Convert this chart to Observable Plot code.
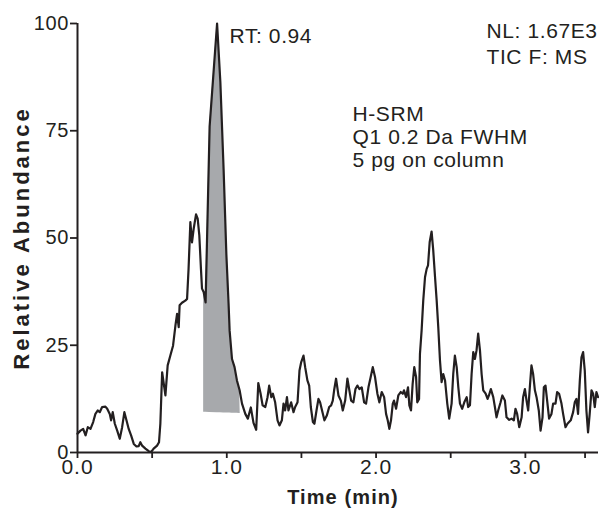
<!DOCTYPE html>
<html><head><meta charset="utf-8">
<script src="https://cdn.jsdelivr.net/npm/d3@7"></script>
<script src="https://cdn.jsdelivr.net/npm/@observablehq/plot@0.6"></script>
<style>
body{margin:0;background:#fff;}
#chart svg{display:block;}
</style></head><body><div id="chart"></div>
<script>
// Time (min) of each sampled point of the trace
const times = [0.000,0.020,0.038,0.054,0.069,0.087,0.105,0.120,0.136,0.149,0.165,0.187,0.199,0.216,0.225,0.236,0.250,0.266,0.283,0.299,0.314,0.328,0.343,0.359,0.377,0.395,0.410,0.421,0.433,0.455,0.477,0.493,0.510,0.533,0.546,0.555,0.567,0.589,0.604,0.622,0.640,0.656,0.667,0.678,0.684,0.700,0.722,0.734,0.744,0.756,0.767,0.778,0.794,0.805,0.816,0.827,0.834,0.845,0.858,0.885,0.935,0.957,0.979,0.997,1.012,1.019,1.035,1.052,1.068,1.086,1.102,1.124,1.141,1.161,1.179,1.197,1.211,1.226,1.240,1.258,1.273,1.284,1.298,1.309,1.324,1.340,1.353,1.369,1.380,1.391,1.403,1.413,1.431,1.447,1.458,1.474,1.487,1.498,1.514,1.525,1.540,1.552,1.563,1.577,1.587,1.601,1.614,1.625,1.641,1.654,1.670,1.686,1.699,1.710,1.719,1.732,1.748,1.764,1.777,1.793,1.808,1.821,1.833,1.848,1.862,1.875,1.888,1.904,1.920,1.933,1.949,1.964,1.978,1.993,2.009,2.022,2.038,2.054,2.067,2.078,2.089,2.100,2.112,2.120,2.134,2.149,2.165,2.179,2.187,2.201,2.214,2.223,2.234,2.245,2.256,2.268,2.276,2.288,2.294,2.305,2.316,2.328,2.339,2.348,2.359,2.372,2.383,2.395,2.406,2.417,2.428,2.439,2.450,2.462,2.477,2.490,2.506,2.517,2.528,2.540,2.551,2.562,2.577,2.591,2.607,2.617,2.629,2.640,2.651,2.662,2.673,2.684,2.696,2.707,2.718,2.734,2.747,2.756,2.769,2.785,2.796,2.807,2.818,2.834,2.846,2.863,2.874,2.892,2.908,2.923,2.934,2.945,2.959,2.975,2.985,2.997,3.008,3.019,3.030,3.041,3.052,3.064,3.075,3.090,3.102,3.115,3.124,3.135,3.146,3.159,3.175,3.186,3.202,3.213,3.226,3.242,3.253,3.269,3.282,3.293,3.304,3.320,3.331,3.342,3.353,3.365,3.376,3.387,3.398,3.409,3.420,3.431,3.443,3.454,3.465,3.476,3.487];
// Relative abundance (%) at each of those times
const abundance = [4.4,5.1,5.5,4.0,5.9,5.5,7.1,9.0,9.8,9.4,10.6,10.7,10.2,9.0,7.5,9.4,6.7,5.1,3.2,5.9,9.4,7.5,5.5,4.0,2.0,1.4,1.5,2.4,1.6,0.9,0.3,0.1,0.9,1.6,2.4,6.7,18.7,13.3,20.3,22.6,24.9,29.6,32.3,29.2,34.3,34.9,35.4,35.8,42.8,53.7,49.0,52.1,55.5,54.5,50.6,42.8,38.2,37.4,35.0,76.0,100,86.3,65.7,46.3,34.7,28.4,21.8,19.9,16.8,14.5,11.4,9.0,7.9,10.5,6.9,5.3,16.2,13.8,11.0,10.6,12.9,15.6,12.9,13.7,11.7,7.5,6.3,7.5,11.4,9.8,12.9,9.8,11.7,9.4,10.6,11.7,19.1,21.0,22.6,19.9,16.8,15.6,10.6,7.1,6.7,9.8,12.5,11.7,9.4,7.5,8.6,10.6,11.0,12.1,14.5,17.2,13.3,12.1,9.8,12.1,17.2,14.5,12.1,11.7,14.8,15.6,14.8,15.2,11.7,11.4,15.2,17.6,19.9,17.6,13.7,11.7,14.1,12.9,9.0,7.5,5.5,7.5,11.4,12.1,10.2,13.3,14.1,13.7,14.5,12.9,15.2,11.0,9.8,16.0,19.9,17.6,11.7,12.5,23.0,28.4,35.4,40.9,42.8,43.6,49.0,51.5,47.1,40.9,35.4,29.0,21.5,16.4,18.3,16.8,11.4,7.9,11.4,18.3,22.6,19.9,15.2,11.4,10.2,11.7,12.9,10.6,11.0,18.3,23.4,21.8,23.8,27.7,23.8,18.3,14.5,13.7,12.5,13.3,14.8,12.9,10.6,8.2,9.8,11.7,13.3,12.1,8.2,7.6,7.9,7.5,10.2,9.0,5.9,8.2,12.9,14.8,12.1,9.8,15.2,20.3,18.3,14.5,12.9,9.8,5.1,8.2,15.2,15.6,12.1,7.9,9.0,11.4,11.4,14.1,13.7,11.4,9.0,5.9,6.7,7.1,7.5,9.4,11.7,12.5,9.0,16.8,22.2,23.4,19.1,9.8,4.7,9.0,14.5,13.7,10.6,14.1,12.9,10.6];

const yTicks = [0, 25, 50, 75, 100];
const xMajorTicks = [0, 1, 2, 3];
const xMinorTicks = [0.5, 1.5, 2.5, 3.4];
const xTickLabels = ["0.0", "1.0", "2.0", "3.0"];

// integrated peak: start/end time and baseline level at each end
const shadeTimes = [0.845, 1.09];
const shadeBaseline = [9.4, 9.1];

const rtLabel = "RT: 0.94";
const nlLabel = ["NL: 1.67E3", "TIC F: MS"];
const methodLabel = ["H-SRM", "Q1 0.2 Da FWHM", "5 pg on column"];
const xLabel = "Time (min)";
const yLabel = "Relative Abundance";

const trace = times.map((t, i) => ({t, v: abundance[i]}));
const baseAt = t => shadeBaseline[0] + (shadeBaseline[1] - shadeBaseline[0]) * (t - shadeTimes[0]) / (shadeTimes[1] - shadeTimes[0]);
const shade = trace.filter(d => d.t >= shadeTimes[0] && d.t <= shadeTimes[1])
  .map(d => ({t: d.t, v: d.v, base: baseAt(d.t)}))
  .concat([{t: shadeTimes[1], v: shadeBaseline[1], base: shadeBaseline[1]}]);

const ink = "#231f20";
const font = '"Liberation Sans", Arial, Helvetica, sans-serif';

const chart = Plot.plot({
  width: 599, height: 510,
  marginLeft: 77, marginRight: 1, marginTop: 23, marginBottom: 58,
  style: {fontFamily: font, color: ink, background: "#fff", overflow: "visible"},
  x: {domain: [0, 3.49]},
  y: {domain: [0, 100]},
  marks: [
    Plot.areaY(shade, {x: "t", y1: "base", y2: "v", fill: "#a7a9ac"}),
    Plot.lineY(trace, {x: "t", y: "v", stroke: ink, strokeWidth: 2.2, strokeLinejoin: "round"}),
    Plot.ruleX([0], {stroke: ink, strokeWidth: 2}),
    Plot.ruleY([0], {stroke: ink, strokeWidth: 2}),
    Plot.axisY({ticks: yTicks, tickSize: 7, tickPadding: 1.5, fontSize: 20, label: null, strokeWidth: 1.8}),
    Plot.axisX({ticks: xMajorTicks, tickFormat: (d, i) => xTickLabels[i], tickSize: 6, tickPadding: 1, fontSize: 21, label: null, strokeWidth: 1.8}),
    Plot.axisX({ticks: xMinorTicks, tickFormat: () => "", tickSize: 6, label: null, strokeWidth: 1.8}),
    Plot.text([rtLabel], {frameAnchor: "top-left", dx: 152, dy: 4.8, textAnchor: "start", lineAnchor: "top", fontSize: 21}),
    ...nlLabel.map((line, i) => Plot.text([line], {frameAnchor: "top-left", dx: 409, dy: -0.6 + i * 26, textAnchor: "start", lineAnchor: "top", fontSize: 21})),
    ...methodLabel.map((line, i) => Plot.text([line], {frameAnchor: "top-left", dx: 275, dy: 82.1 + i * 23.3, textAnchor: "start", lineAnchor: "top", fontSize: 21})),
    Plot.text([xLabel], {frameAnchor: "bottom", dx: 5, dy: 44.6, textAnchor: "middle", lineAnchor: "middle", fontSize: 20, fontWeight: "bold"}),
    Plot.text([yLabel], {frameAnchor: "left", dx: -56, rotate: -90, textAnchor: "middle", lineAnchor: "middle", fontSize: 22, fontWeight: "bold"})
  ]
});
document.getElementById("chart").appendChild(chart);

// the reference typeface runs wider than Liberation Sans: add tracking per text
const tracking = new Map([
  ...yTicks.map(d => [String(d), 0.6]),
  ...xTickLabels.map(s => [s, 1]),
  [rtLabel, 0.6], ...nlLabel.map(s => [s, 0.6]), ...methodLabel.map(s => [s, 0.6]),
  [xLabel, 1.1], [yLabel, 3.0]
]);
chart.querySelectorAll("text").forEach(t => {
  const k = tracking.get(t.textContent.trim());
  if (k) {
    t.setAttribute("letter-spacing", k);
    t.style.letterSpacing = k + "px";
  }
});
</script>
</body></html>
